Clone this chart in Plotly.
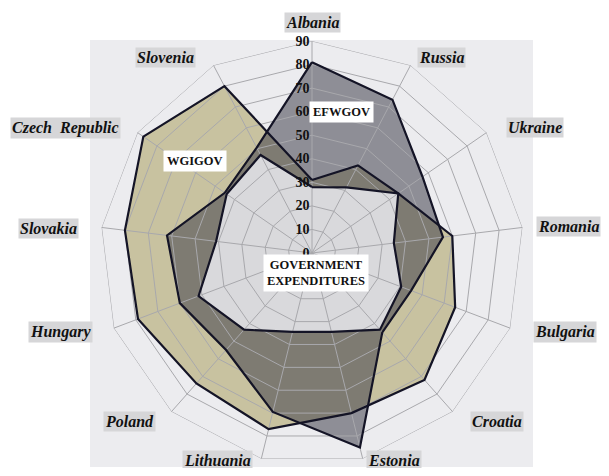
import plotly.graph_objects as go

# the page body adds an 8px margin all round, so the figure is kept inside it
OFFSET = 8
W, H = 609 - 2 * OFFSET, 476 - 2 * OFFSET
MARGIN = dict(l=92, r=77, t=33, b=3)

COUNTRIES = ["Albania", "Russia", "Ukraine", "Romania", "Bulgaria", "Croatia",
             "Estonia", "Lithuania", "Poland", "Hungary", "Slovakia",
             "Czech Republic", "Slovenia"]
COUNTRY_TEXT = ["Albania", "Russia", "Ukraine", "Romania", "Bulgaria", "Croatia",
                "Estonia", "Lithuania", "Poland", "Hungary", "Slovakia",
                "Czech  Republic", "Slovenia"]

EFWGOV = [81, 73.5, 57, 56, 45, 45, 85, 69.5, 55, 60, 62, 45, 50.5]
WGIGOV = [31, 42, 44.5, 60, 65, 72, 70, 77, 74, 79, 80, 87, 80]
GOV_EXP = [28, 31.5, 44.5, 35, 40.5, 43.5, 34.5, 34.5, 43.5, 51.5, 41, 44, 47]

RADIAL_TICKS = [0, 10, 20, 30, 40, 50, 60, 70, 80, 90]

# label box centres, in page pixels
LABEL_PX = [(312, 22), (441, 57), (535, 127), (568, 227), (565, 332), (497, 421),
            (394, 460), (217, 460), (129, 421), (60, 332), (48, 228), (65, 128),
            (165, 57)]

SERIES_TAGS = [("EFWGOV", (341, 112)), ("WGIGOV", (195, 161)),
               ("GOVERNMENT<br>EXPENDITURES", (316, 273))]

SERIF = "Liberation Serif"
OUTLINE = "#141426"
GRID = "#a8a8ac"


def px2paper(x, y):
    x, y = x - OFFSET, y - OFFSET
    pw = W - MARGIN["l"] - MARGIN["r"]
    ph = H - MARGIN["t"] - MARGIN["b"]
    return (x - MARGIN["l"]) / pw, (H - MARGIN["b"] - y) / ph


def closed(vals):
    return list(vals) + [vals[0]]


theta = closed(COUNTRIES)
fig = go.Figure()

# fills: khaki below, translucent grey over it, light grey on top
fills = [(WGIGOV, "#c8c2a0"), (EFWGOV, "rgba(65,65,77,0.55)"), (GOV_EXP, "#d9d9dc")]
for vals, col in fills:
    fig.add_trace(go.Scatterpolar(r=closed(vals), theta=theta, mode="lines",
                                  fill="toself", fillcolor=col,
                                  line=dict(width=0), hoverinfo="skip"))

# grid drawn over the fills, as in the original
gr, gt = [], []
for v in RADIAL_TICKS[1:]:
    gr += [v] * len(theta) + [None]
    gt += theta + [None]
for c in COUNTRIES:
    gr += [0, RADIAL_TICKS[-1], None]
    gt += [c, c, None]
fig.add_trace(go.Scatterpolar(r=gr, theta=gt, mode="lines",
                              line=dict(color=GRID, width=1), hoverinfo="skip"))

for vals in (WGIGOV, EFWGOV, GOV_EXP):
    fig.add_trace(go.Scatterpolar(r=closed(vals), theta=theta, mode="lines",
                                  line=dict(color=OUTLINE, width=2.2),
                                  hoverinfo="skip"))

bx0, by0 = px2paper(90, 40)
bx1, by1 = px2paper(533, 467)
shapes = [dict(type="rect", xref="paper", yref="paper", x0=bx0, y0=by1, x1=bx1, y1=by0,
               fillcolor="#ececef", line=dict(width=0), layer="below")]

annotations = []
for name, (x, y) in zip(COUNTRY_TEXT, LABEL_PX):
    px, py = px2paper(x, y)
    annotations.append(dict(x=px, y=py, xref="paper", yref="paper", text=name,
                            xanchor="center", yanchor="middle",
                            showarrow=False, bgcolor="#d6d6d8", borderpad=1,
                            font=dict(family=SERIF, size=16, color="#111",
                                      style="italic", weight="bold")))
for name, (x, y) in SERIES_TAGS:
    px, py = px2paper(x, y)
    annotations.append(dict(x=px, y=py, xref="paper", yref="paper", text=name,
                            xanchor="center", yanchor="middle",
                            showarrow=False, bgcolor="white", borderpad=3,
                            font=dict(family=SERIF, size=12.5, color="#111",
                                      weight="bold")))

fig.update_layout(
    width=W, height=H,
    margin=MARGIN,
    paper_bgcolor="white",
    showlegend=False,
    shapes=shapes,
    annotations=annotations,
    polar=dict(
        bgcolor="rgba(0,0,0,0)",
        gridshape="linear",
        angularaxis=dict(direction="clockwise", rotation=90, showgrid=False,
                         showline=False, showticklabels=False, ticks=""),
        radialaxis=dict(range=[0, 90], tickvals=RADIAL_TICKS, angle=90,
                        tickangle=90, side="counterclockwise",
                        showgrid=False, showline=False, ticks="",
                        layer="above traces",
                        tickfont=dict(family=SERIF, size=14, color="#111",
                                      weight="bold")),
    ),
)

fig.write_html("out.html")
